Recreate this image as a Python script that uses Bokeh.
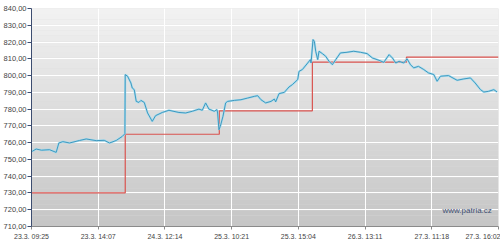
from bokeh.plotting import figure
from bokeh.models import FixedTicker, Range1d, Label
from bokeh.embed import file_html
from bokeh.resources import INLINE

# x positions: trading-time index (each tick interval = 100 units)
tick_pos = [0, 100, 200, 300, 400, 500, 600, 700]
tick_labels = ["23.3. 09:25", "23.3. 14:07", "24.3. 12:14", "25.3. 10:21",
               "25.3. 15:04", "26.3. 13:11", "27.3. 11:18", "27.3. 16:02"]
y_ticks = list(range(710, 841, 10))
y_labels = {t: f"{t},00" for t in y_ticks}

price_x = [1, 7, 15, 27, 37, 41, 47, 57, 72, 82, 97, 109, 117, 127, 136, 140,
           140.5, 144, 149, 151, 154, 157, 161, 164, 169, 174, 181, 186, 196, 206,
           221, 231, 241, 251, 256, 261, 266, 274, 278, 279, 281, 283, 287, 291,
           294, 304, 314, 324, 334, 339, 344, 351, 359, 364, 366, 371, 379, 386,
           391, 399, 401, 406, 414, 418, 419, 422, 424, 426, 429, 431, 436, 441,
           446, 451, 456, 463, 473, 483, 493, 503, 511, 521, 528, 536, 541, 546,
           551, 558, 563, 568, 573, 580, 588, 595, 603, 608, 613, 625, 638, 648,
           658, 665, 673, 678, 685, 693, 698]
price_y = [754.8, 756.2, 755.5, 755.8, 754.2, 759.8, 760.6, 759.8, 761.3, 762.2,
           761.2, 761.4, 759.8, 761.3, 763.7, 765.3,
           800.6, 799.6, 795.6, 792.6, 791.6, 784.6, 784.0, 785.2, 784.0, 777.7,
           772.7, 776.1, 778.0, 779.3, 778.0, 777.7, 778.7, 780.0, 779.3, 783.7,
           780.0, 778.7, 779.7, 777.7, 767.7, 769.7, 775.7, 783.7, 784.6, 785.2,
           785.6, 786.6, 787.6, 788.0, 785.6, 783.7, 784.6, 786.0, 784.3, 789.2,
           790.0, 793.2, 794.6, 797.6, 802.5, 803.6, 807.5, 809.5, 807.5, 821.5,
           820.4, 814.5, 809.5, 814.5, 813.1, 811.5, 808.5, 806.5, 809.5, 813.5,
           813.9, 814.5, 813.9, 813.1, 810.5, 809.1, 807.9, 812.5, 810.5, 807.5,
           808.5, 807.5, 810.0, 806.5, 804.6, 805.5, 803.6, 801.6, 800.6, 796.6,
           799.6, 800.0, 797.2, 798.0, 798.6, 795.6, 791.6, 790.2, 790.6, 791.6,
           790.2]

target_x = [0, 140.5, 281.5, 421, 562, 700]
target_y = [730, 765, 779, 808, 811, 811]

p = figure(width=500, height=250, output_backend="svg", toolbar_location=None,
           x_range=Range1d(0, 700), y_range=Range1d(710, 840),
           min_border_left=30, min_border_right=2, min_border_top=8,
           min_border_bottom=24, outline_line_color=None,
           background_fill_color="#dcdcdc", border_fill_color="white")

# vertical gradient background (decoration)
n = 40
top_c = (0xf2, 0xf2, 0xf2)
bot_c = (0xc6, 0xc6, 0xc6)
bottoms, tops, cols = [], [], []
for i in range(n):
    b = 710 + 130 * i / n
    t = 710 + 130 * (i + 1) / n
    f = (i + 0.5) / n
    c = tuple(int(bot_c[k] + (top_c[k] - bot_c[k]) * f) for k in range(3))
    bottoms.append(b); tops.append(t); cols.append("#%02x%02x%02x" % c)
p.quad(left=0, right=700, bottom=bottoms, top=tops, fill_color=cols,
       line_color=None, level="image")

p.xgrid.ticker = FixedTicker(ticks=tick_pos)
p.ygrid.ticker = FixedTicker(ticks=y_ticks)
p.grid.grid_line_color = "white"
p.grid.grid_line_width = 1

p.step(target_x, target_y, mode="after", line_color="#d9534f", line_width=1.2)
p.line(price_x, price_y, line_color="#9fdcf0", line_width=2.2, line_alpha=0.8)
p.line(price_x, price_y, line_color="#3f98bf", line_width=1)

xa = p.xaxis[0]
xa.ticker = FixedTicker(ticks=tick_pos)
xa.major_label_overrides = {t: l for t, l in zip(tick_pos, tick_labels)}
xa.axis_line_color = "#8a8a8a"
xa.major_tick_line_color = "#8a8a8a"
xa.major_tick_in = 0
xa.major_tick_out = 3
xa.minor_tick_line_color = None
xa.major_label_standoff = 3
xa.major_label_text_font = "Liberation Sans"
xa.major_label_text_font_size = "7px"
xa.major_label_text_color = "#444444"

ya = p.yaxis[0]
ya.ticker = FixedTicker(ticks=y_ticks)
ya.major_label_overrides = y_labels
ya.axis_line_color = "#3c4d70"
ya.major_tick_line_color = "#3c4d70"
ya.major_tick_in = 0
ya.major_tick_out = 4
ya.minor_tick_line_color = None
ya.major_label_standoff = 1
ya.major_label_text_font = "Liberation Sans"
ya.major_label_text_font_size = "7.5px"
ya.major_label_text_color = "#444444"

p.add_layout(Label(x=690, y=719.5, text="www.patria.cz", text_align="right",
                   text_baseline="middle", text_font="Liberation Sans",
                   text_font_size="8px", text_color="#3c4d70"))

open("out.html", "w").write(file_html(p, INLINE))
